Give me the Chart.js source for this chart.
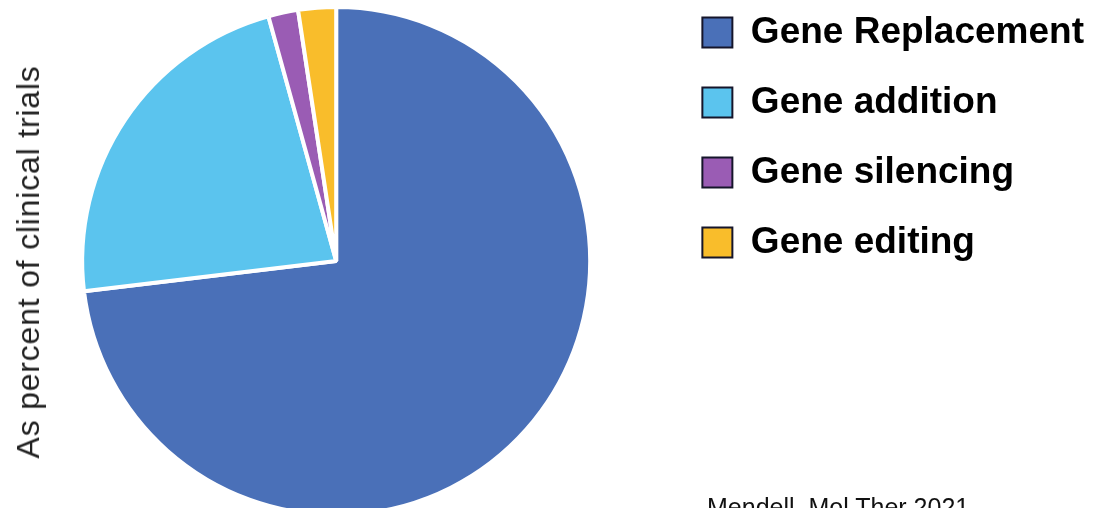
<!DOCTYPE html>
<html>
<head>
<meta charset="utf-8">
<script src="https://cdn.jsdelivr.net/npm/chart.js@4.4.1/dist/chart.umd.min.js"></script>
<style>
  html, body { margin: 0; padding: 0; background: #ffffff; overflow: hidden; width: 1099px; height: 508px; }
  #wrap { position: absolute; left: 0; top: -40px; width: 1099px; height: 600px; }
  #ylabel {
    position: absolute; left: 28px; top: 262px;
    transform: translate(-50%, -50%) rotate(-90deg);
    font-family: "Liberation Sans", Arial, sans-serif; font-size: 32px; line-height: 1;
    letter-spacing: 0.8px; white-space: nowrap; color: #222;
  }
  #source {
    position: absolute; left: 707px; top: 495px;
    font-family: "Liberation Sans", Arial, sans-serif; font-size: 25px; line-height: 1;
    white-space: nowrap; color: #111;
  }
</style>
</head>
<body>
<div id="wrap"><canvas id="c" width="1099" height="600"></canvas></div>
<div id="ylabel">As percent of clinical trials</div>
<div id="source">Mendell, Mol Ther 2021</div>
<script>
const categories = ["Gene Replacement", "Gene addition", "Gene silencing", "Gene editing"];
const percentValues = [73.1, 22.6, 1.9, 2.4];
const sliceColors = ["#4a70b8", "#5bc4ee", "#9a5cb4", "#f9bd2b"];

const ctx = document.getElementById('c').getContext('2d');
new Chart(ctx, {
  type: 'pie',
  data: {
    labels: categories,
    datasets: [{
      data: percentValues,
      backgroundColor: sliceColors,
      borderColor: '#ffffff',
      borderWidth: 4
    }]
  },
  options: {
    responsive: false,
    devicePixelRatio: 1,
    animation: false,
    radius: 254,
    layout: { padding: { left: 3, right: 5, top: 21, bottom: 19 } },
    plugins: {
      tooltip: { enabled: false },
      legend: {
        position: 'right',
        align: 'start',
        labels: {
          boxWidth: 30,
          boxHeight: 30,
          padding: 33,
          color: '#000000',
          font: { family: '"Liberation Sans", Arial, sans-serif', size: 37, weight: 'bold' },
          generateLabels: function(chart) {
            const items = Chart.overrides.pie.plugins.legend.labels.generateLabels(chart);
            items.forEach(it => { it.strokeStyle = '#15152a'; it.lineWidth = 2; });
            return items;
          }
        }
      }
    }
  }
});
</script>
</body>
</html>
